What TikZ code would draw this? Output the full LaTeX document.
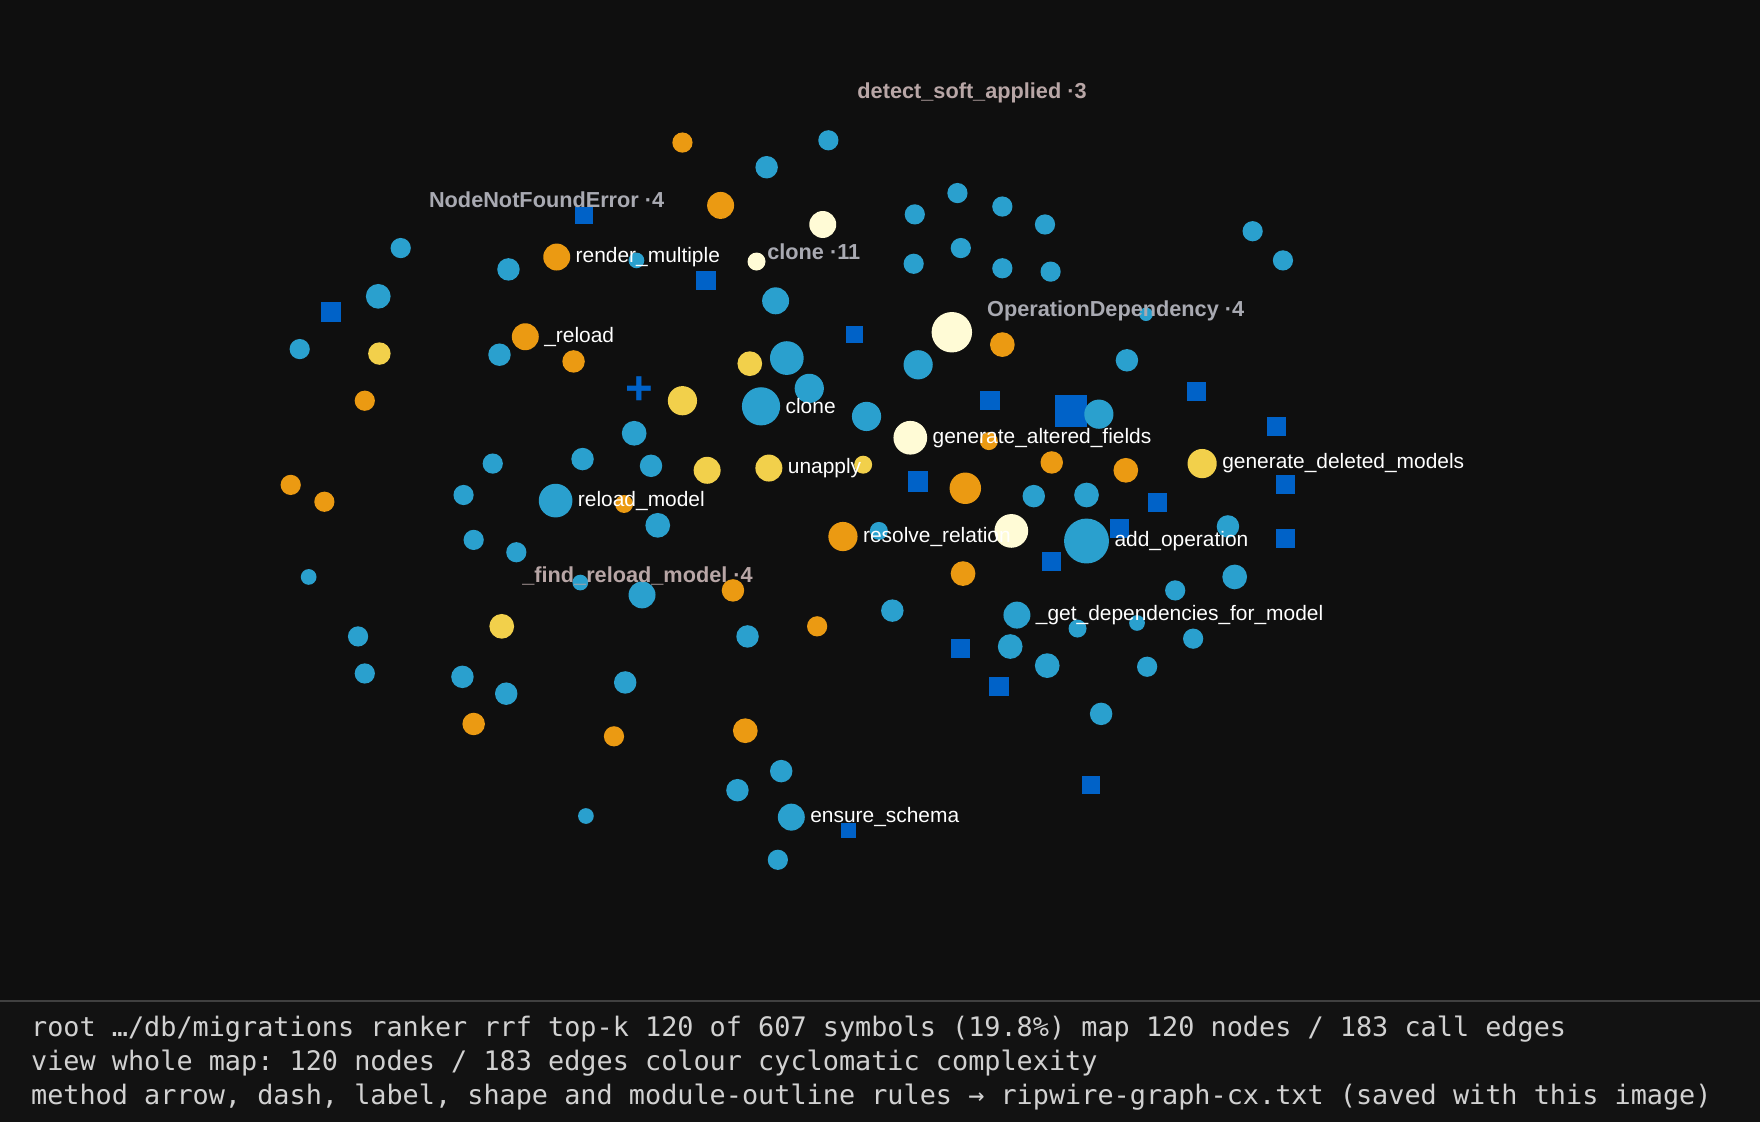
\documentclass[tikz,border=0pt]{standalone}
\usepackage{fontspec}
\setmainfont{Liberation Sans}
\setmonofont{DejaVu Sans Mono}
\usetikzlibrary{arrows.meta,backgrounds,positioning}
\definecolor{bgc}{HTML}{0F0F0F}
\definecolor{cblue}{HTML}{2AA0CE}
\definecolor{corange}{HTML}{EB9A12}
\definecolor{cyellow}{HTML}{F2D04B}
\definecolor{ccream}{HTML}{FFFBD6}
\definecolor{csq}{HTML}{0062C8}
\definecolor{edgec}{HTML}{5E5F64}
\definecolor{tipc}{HTML}{9A9AA2}
\definecolor{hullc}{HTML}{4A4D50}
\definecolor{hullf}{HTML}{1C1E1F}
\definecolor{clabc}{HTML}{A9AAB2}
\definecolor{clabp}{HTML}{B8A6A6}
\pgfdeclarelayer{edges}
\pgfsetlayers{background,edges,main}
\tikzset{
  bn/.style={circle,fill=cblue,inner sep=0,minimum size={#1*0.02cm}}, bn/.default=9.5,
  on/.style={circle,fill=corange,inner sep=0,minimum size={#1*0.02cm}}, on/.default=9.5,
  yn/.style={circle,fill=cyellow,inner sep=0,minimum size={#1*0.02cm}}, yn/.default=10,
  cn/.style={circle,fill=ccream,inner sep=0,minimum size={#1*0.02cm}}, cn/.default=12,
  sq/.style={rectangle,fill=csq,inner sep=0,minimum size={#1*0.02cm}}, sq/.default=8.5,
  lab/.style={anchor=west,text=white,font=\fontsize{5.3}{6}\selectfont,inner sep=1pt},
  clab/.style={text=clabc,font=\fontsize{5.5}{6}\selectfont\bfseries,inner sep=0},
  hull/.style={draw=hullc,fill=hullf,line width=0.7pt,fill opacity=0.85},
  e/.style={draw=edgec,line width=0.45pt,-{Stealth[length=3.6pt,width=3pt,color=tipc]}},
  de/.style={e,dashed},
  foot/.style={anchor=west,text=white!82!black,font=\ttfamily\fontsize{6.8}{8}\selectfont,inner sep=0}
}
\begin{document}
\begin{tikzpicture}[x=0.01cm,y=-0.01cm]
  \fill[bgc] (0,0) rectangle (1568,1000);
  \useasboundingbox (0,0) rectangle (1568,1000);
  % footer
  \fill[black!93] (0,892) rectangle (1568,1000);
  \draw[black!75,line width=0.5pt] (0,892) -- (1568,892);
  \node[foot] (f1) at (27,917) {root …/db/migrations ranker rrf top-k 120 of 607 symbols (19.8\%) map 120 nodes / 183 call edges};
  \node[foot] (f2) at (27,947) {view whole map: 120 nodes / 183 edges colour cyclomatic complexity};
  \node[foot] (f3) at (27,977) {method arrow, dash, label, shape and module-outline rules → ripwire-graph-cx.txt (saved with this image)};

  % module outlines
  \begin{scope}[on background layer]
    \draw[hull] plot[smooth cycle,tension=0.7] coordinates {(605,330) (650,272) (720,254) (785,275) (818,330) (832,395) (800,442) (700,442) (620,427) (600,380)};
    \draw[hull] plot[smooth cycle,tension=0.7] coordinates {(678,145) (735,114) (750,130) (746,208) (724,212) (676,165)};
    \draw[hull] plot[smooth cycle,tension=0.7] coordinates {(485,225) (512,183) (560,194) (577,232) (558,243) (494,243)};
    \draw[hull] plot[smooth cycle,tension=0.7] coordinates {(322,250) (357,210) (364,235) (346,322) (323,324) (316,290)};
    \draw[hull] plot[smooth cycle,tension=0.7] coordinates {(893,312) (960,300) (1012,312) (1016,350) (990,386) (950,388) (902,335)};
    \draw[hull] plot[smooth cycle,tension=0.7] coordinates {(1033,452) (1058,352) (1076,340) (1087,420) (1060,453)};
    \draw[hull] plot[smooth cycle,tension=0.7] coordinates {(398,580) (442,548) (463,570) (466,622) (425,662) (394,632)};
  \end{scope}

  % nodes
  \foreach \n/\x/\y/\s/\r in {
    a1/357/221/bn/9, a2/337/264/bn/11, a3/295/278/sq/9, a4/338/315/yn/10, a5/267/311/bn/9, a6/325/357/on/9,
    l1/259/432/on/9, l2/289/447/on/9, l3/275/514/bn/7, l4/319/567/bn/9, l5/325/600/bn/9,
    f1/447/558/yn/11, f2/412/603/bn/10, f3/451/618/bn/10, f4/422/645/on/10, u1/522/727/bn/7,
    t1/608/127/on/9, t2/642/183/on/12, t3/683/149/bn/10, t4/738/125/bn/9, t5/733/200/cn/12,
    r1/520/192/sq/8, rm/496/229/on/12, r3/567/232/bn/7, r4/453/240/bn/10, rl/468/300/on/12,
    r6/445/316/bn/10, r7/511/322/on/10, r8/629/250/sq/8.5, r9/674/233/cn/8, r10/691/268/bn/12,
    c1/608/357/yn/13, c2/668/324/yn/11, c3/701/319/bn/15, c4/721/346/bn/13, cl/678/362/bn/17,
    c6/772/371/bn/13, c7/761/298/sq/7.5, c8/818/325/bn/13, od/848/296/cn/18,
    m1/565/386/bn/11, m2/519/409/bn/10, m3/580/415/bn/10, m4/630/419/yn/12, un/685/417/yn/12,
    m6/769/414/yn/8, ga/811/390/cn/15,
    rmd/495/446/bn/15, k1/439/413/bn/9, k2/413/441/bn/9, k3/556/449/on/8, k4/586/468/bn/11,
    k5/422/481/bn/9, k6/460/492/bn/9,
    d1/517/519/bn/7, d2/572/530/bn/12, d3/653/526/on/10, d4/666/567/bn/10, d5/557/608/bn/10,
    d6/547/656/on/9, d7/664/651/on/11, d8/696/687/bn/10, d9/657/704/bn/10, es/705/728/bn/12,
    d11/756/740/sq/7, d12/693/766/bn/9,
    rr/751/478/on/13, e1/783/473/bn/8, e2/728/558/on/9, e3/795/544/bn/10, e4/858/511/on/11,
    e5/860/435/on/14, e6/818/429/sq/9, e7/881/393/on/8, e8/882/357/sq/8.5, e9/937/412/on/10,
    e10/1003/419/on/11, e11/921/442/bn/10, e12/968/441/bn/11, e13/901/473/cn/15, ao/968/482/bn/20,
    e15/937/500/sq/8.5, e16/997/471/sq/8.5, e17/1031/448/sq/8.5, gd/1071/413/yn/13,
    e19/1066/349/sq/8.5, e20/1137/380/sq/8.5, e21/1145/432/sq/8.5, e22/1145/480/sq/8.5,
    e23/1094/469/bn/10, e24/1100/514/bn/11, e25/1047/526/bn/9, e26/1063/569/bn/9, e27/1022/594/bn/9,
    e28/1013/555/bn/7, e29/960/560/bn/8, gdm/906/548/bn/12, e31/900/576/bn/11, e32/933/593/bn/11,
    e33/856/578/sq/8.5, e34/890/612/sq/8.5, e35/981/636/bn/10, e36/972/699/sq/8,
    o1/954/366/sq/14, o2/979/369/bn/13, o3/1004/321/bn/10, o4/893/307/on/11, o5/1021/280/bn/6,
    p1/815/191/bn/9, p2/853/172/bn/9, p3/893/184/bn/9, p4/931/200/bn/9, p5/856/221/bn/9,
    p6/814/235/bn/9, p7/893/239/bn/9, p8/936/242/bn/9, p9/1116/206/bn/9, p10/1143/232/bn/9}
    \node[\s=\r] (\n) at (\x,\y) {};
  \node[text=csq,font=\bfseries\fontsize{12}{12}\selectfont,inner sep=0] (px) at (570,348) {+};

  % call edges
  \begin{pgfonlayer}{edges}
    \foreach \a/\b in {a4/a2, a2/a1, a4/a6, t2/t1, t2/t3, t5/t4, t5/t3, rm/r1, rm/r4, r7/rl,
      r10/c3, c2/cl, c4/cl, un/cl, m4/c1, m1/c1, px/c1, m2/m1, rmd/m1, rmd/m2, rmd/m3, k1/rmd,
      k2/rmd, k5/rmd, k6/rmd, rmd/rl, rmd/r6, rmd/d2, d2/d3, d5/d2, d6/d5, d7/d9, d7/d8, d9/es,
      es/d11, f1/f2, f1/f3, f2/f4, d3/rr, e2/rr, m6/rr, c6/rr, un/rr, e3/e1, ga/e6, ga/e5,
      e4/e3, e13/e5, ao/e5, od/e8, od/e5, o4/o1, o3/o2, gd/e19, gd/e20, gd/e21, gd/e22,
      e16/e17, o1/e19, e31/e34, e32/e34, e35/e36, gdm/e33, ga/c8, od/c8, c6/c8, m6/c7,
      t2/r10, r9/r10, rm/c8, m4/m1, c1/r7, r4/rl, d4/d7, un/d4, e1/rr, e10/e17, e5/ga,
      e12/ao, e11/ao, e10/ao, e9/ao, e16/ao, e15/ao, e25/ao, e26/ao, e27/ao, e28/ao, e29/ao,
      gdm/ao, e31/ao, e35/ao, e24/ao, e23/ao, e13/ao, e7/ao, o2/ao, od/ao, c6/e5, e4/ao,
      e23/e21, e24/e22, o5/o2, m3/c1, c1/m2, k4/rmd, d1/rmd, l4/l5, rm/rl, r6/r4, cl/r8}
      \draw[e] (\a) -- (\b);
    \foreach \a/\b in {r10/cl, c1/cl, c1/c3, c6/cl, c8/c3, od/c3, od/c4, un/c4, od/p1, od/p2,
      od/p3, od/p4, od/p5, od/p6, od/p7, od/p8, c2/c3, m4/cl}
      \draw[de] (\a) -- (\b);
    \draw[edgec,line width=0.45pt] (l1) -- (l2) (a3) -- (a2) (a5) -- (a2) (o1) -- (od) (p9) -- (p10);
  \end{pgfonlayer}

  % node labels
  \node[lab] at (rm.east) {render\_multiple};
  \node[lab] at (rl.east) {\_reload};
  \node[lab] at (cl.east) {clone};
  \node[lab] at (un.east) {unapply};
  \node[lab] at (rmd.east) {reload\_model};
  \node[lab] at (ga.east) {generate\_altered\_fields};
  \node[lab] at (gd.east) {generate\_deleted\_models};
  \node[lab] at (rr.east) {resolve\_relation};
  \node[lab] at (ao.east) {add\_operation};
  \node[lab] at (gdm.east) {\_get\_dependencies\_for\_model};
  \node[lab] at (es.east) {ensure\_schema};

  % module labels
  \node[clab,text=clabp] (lsoft) at (866,83) {detect\_soft\_applied ·3};
  \node[clab] (lnnf) at (487,178) {NodeNotFoundError ·4};
  \node[clab] (lclone) at (725,224) {clone ·11};
  \node[clab] (lod) at (994,277) {OperationDependency ·4};
  \node[clab,text=clabp] (lfind) at (568,513) {\_find\_reload\_model ·4};
\end{tikzpicture}
\end{document}
